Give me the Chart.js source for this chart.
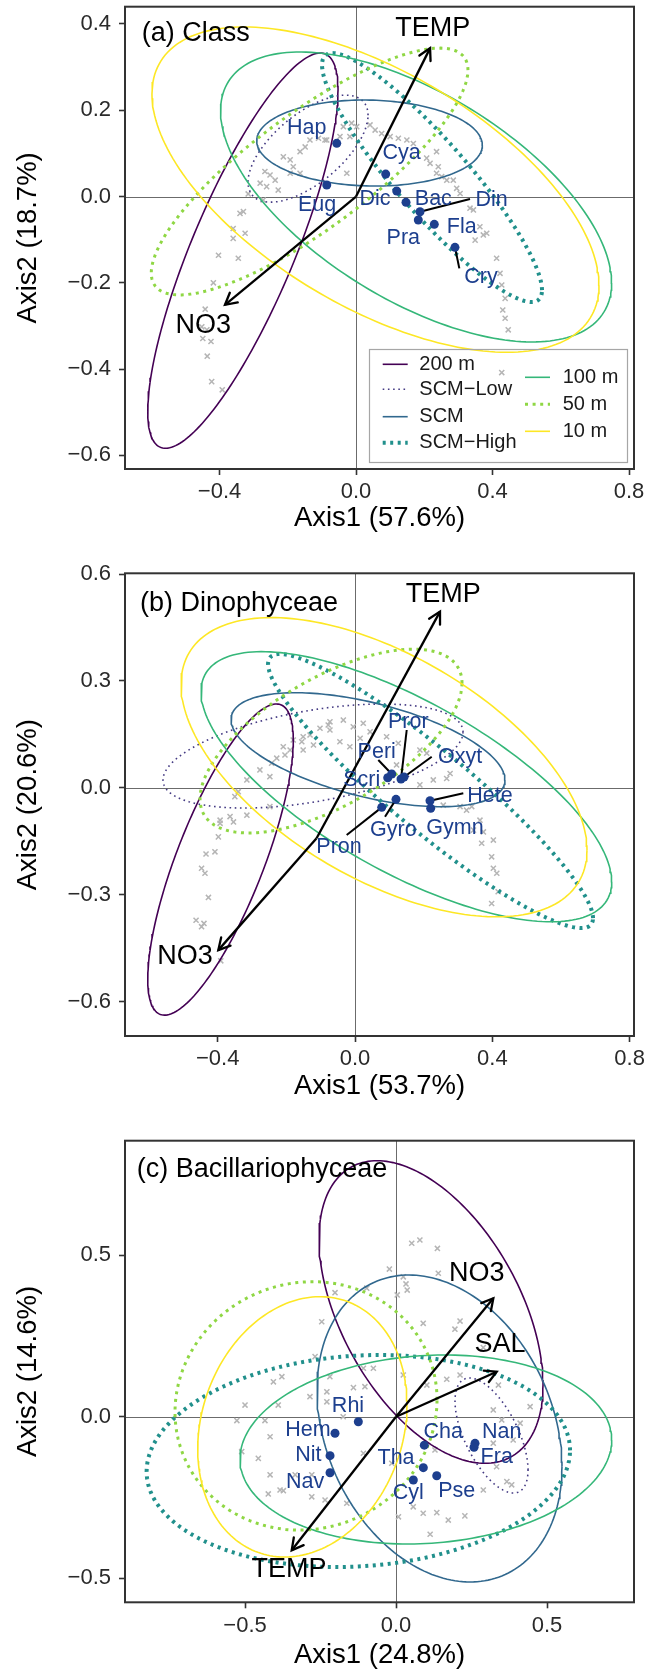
<!DOCTYPE html>
<html><head><meta charset="utf-8">
<script src="https://cdn.jsdelivr.net/npm/chart.js@4.4.0/dist/chart.umd.min.js"></script>
<style>
html,body{margin:0;padding:0;background:#fff;}
#wrap{position:relative;width:649px;height:1678px;overflow:hidden;}
canvas{position:absolute;left:0;}
</style></head><body><div id="wrap">
<canvas id="ca" width="649" height="545" style="top:0px;width:649px;height:545px"></canvas>
<canvas id="cb" width="649" height="565" style="top:545px;width:649px;height:565px"></canvas>
<canvas id="cc" width="649" height="568" style="top:1110px;width:649px;height:568px"></canvas>
</div>
<script>
// ---------------- data ----------------
const groups = ['200 m','SCM\u2212Low','SCM','SCM\u2212High','100 m','50 m','10 m'];
// ellipse: centre x, centre y, half-range x, half-range y, correlation
const ellA = [[-0.3315,-0.1255,0.2788,0.458,0.813],[-0.1406,0.111,0.1758,0.124,0.626],[0.0396,0.124,0.3305,0.0997,-0.05],[0.2227,0.044,0.3223,0.2885,-0.904],[0.176,-0.001,0.573,0.336,-0.594],[-0.136,0.058,0.464,0.286,0.822],[0.057,0.016,0.655,0.377,-0.588]];
const ellB = [[-0.3918,-0.2017,0.212,0.4368,0.768],[-0.1223,0.089,0.437,0.146,0.46],[0.0379,0.1067,0.399,0.160,-0.53],[0.22,-0.0093,0.4733,0.3848,-0.927],[0.1496,0.0028,0.5982,0.3792,-0.704],[-0.0699,0.131,0.3816,0.258,0.63],[0.0845,0.0576,0.5913,0.42,-0.554]];
const ellC = [[0.1159,0.3241,0.3709,0.4684,-0.482],[0.3162,-0.0582,0.1209,0.178,-0.6],[0.144,-0.0365,0.4056,0.4752,-0.25],[-0.1248,-0.1372,0.701,0.3282,0.1],[0.0988,-0.1015,0.6154,0.2926,0.1],[-0.298,0.0334,0.4338,0.3845,0.05],[-0.3101,-0.0314,0.3465,0.403,0.17]];

const sitesA = [[-0.213,0.092],[-0.193,0.085],[-0.164,0.104],[-0.149,0.115],[-0.135,0.131],[-0.110,0.135],[-0.091,0.131],[-0.184,0.069],[-0.193,0.054],[-0.164,0.054],[-0.267,0.058],[-0.252,0.050],[-0.237,0.038],[-0.281,0.031],[-0.262,0.023],[-0.228,0.015],[-0.316,0.006],[-0.272,-0.008],[-0.340,-0.039],[-0.330,-0.035],[-0.360,-0.074],[-0.325,-0.085],[-0.360,-0.097],[-0.403,-0.136],[-0.345,-0.143],[-0.037,0.162],[-0.013,0.170],[0.002,0.162],[0.041,0.166],[0.056,0.154],[0.075,0.146],[0.100,0.139],[0.124,0.135],[0.149,0.131],[0.168,0.123],[-0.018,0.139],[-0.047,0.139],[-0.086,0.131],[-0.027,0.054],[0.207,0.089],[0.217,0.077],[0.241,0.069],[0.236,0.054],[0.251,0.046],[0.266,0.038],[0.285,0.038],[0.295,0.019],[0.305,0.007],[0.334,-0.027],[0.344,-0.031],[0.363,-0.070],[0.373,-0.089],[0.349,-0.101],[0.383,-0.085],[0.412,-0.143],[0.422,-0.178],[0.236,0.104],[-0.418,-0.200],[-0.442,-0.261],[-0.452,-0.302],[-0.437,-0.309],[-0.449,-0.329],[-0.425,-0.336],[-0.436,-0.370],[-0.423,-0.429],[-0.392,-0.448],[0.427,-0.205],[0.437,-0.236],[0.430,-0.263],[0.437,-0.282],[0.446,-0.309],[0.427,-0.408]];
const sitesB = [[-0.151,0.143],[-0.131,0.148],[-0.155,0.129],[-0.121,0.120],[-0.180,0.134],[-0.209,0.115],[-0.189,0.106],[-0.151,0.106],[-0.204,0.092],[-0.228,0.083],[-0.243,0.069],[-0.277,0.050],[-0.248,0.031],[-0.315,0.022],[-0.340,-0.011],[-0.350,-0.025],[-0.315,-0.077],[-0.248,-0.053],[-0.364,-0.081],[-0.393,-0.100],[-0.102,0.167],[-0.078,0.176],[-0.073,0.185],[-0.034,0.190],[-0.005,0.171],[0.024,0.181],[0.044,0.157],[0.015,0.139],[0.092,0.143],[0.126,0.125],[0.189,0.106],[0.209,0.097],[0.189,0.008],[0.228,0.022],[0.267,0.026],[0.277,0.040],[0.121,0.064],[0.257,-0.049],[0.306,-0.053],[0.325,-0.063],[0.340,-0.053],[-0.073,0.162],[-0.044,0.129],[-0.015,0.115],[-0.393,-0.091],[-0.354,-0.096],[-0.398,-0.138],[-0.408,-0.180],[-0.434,-0.186],[-0.447,-0.226],[-0.437,-0.240],[-0.427,-0.308],[-0.463,-0.372],[-0.447,-0.390],[-0.440,-0.381],[-0.391,-0.486],[0.345,-0.119],[0.374,-0.124],[0.369,-0.156],[0.403,-0.147],[0.398,-0.194],[0.403,-0.226],[0.413,-0.240],[0.417,-0.292],[0.398,-0.325],[0.364,-0.091]];
const sitesC = [[-0.246,0.294],[-0.268,0.186],[-0.406,0.108],[-0.378,0.124],[-0.285,0.062],[0.052,0.537],[0.079,0.547],[0.137,0.521],[-0.022,0.457],[0.140,0.444],[0.024,0.433],[0.033,0.411],[0.037,0.392],[0.004,0.377],[-0.202,0.384],[-0.097,0.398],[0.090,0.289],[0.212,0.296],[0.195,0.271],[0.289,0.214],[-0.075,0.150],[-0.108,0.150],[-0.219,0.124],[-0.141,0.090],[-0.103,0.093],[0.024,0.129],[0.168,0.116],[0.212,0.129],[0.102,0.098],[0.339,0.098],[-0.229,0.077],[-0.500,0.036],[-0.527,-0.012],[-0.434,-0.012],[-0.390,0.036],[-0.417,-0.062],[-0.511,-0.108],[-0.456,-0.129],[-0.417,-0.180],[-0.334,-0.180],[-0.279,-0.180],[-0.423,-0.239],[-0.384,-0.227],[-0.373,-0.229],[-0.279,-0.248],[-0.235,-0.258],[-0.229,0.046],[-0.175,0.000],[-0.108,-0.113],[-0.163,-0.268],[0.008,-0.310],[0.057,-0.279],[0.090,-0.299],[0.135,-0.297],[0.173,-0.320],[0.228,-0.307],[0.113,-0.364],[0.289,-0.227],[0.322,0.021],[0.350,-0.010],[0.411,-0.020],[0.444,0.031],[0.322,-0.082],[0.388,-0.072],[0.333,-0.155],[0.367,-0.201],[0.383,-0.211],[0.129,-0.103],[-0.014,-0.144]];

const taxaA = ['Hap','Eug','Cya','Dic','Bac','Din','Pra','Fla','Cry'];
const taxaA_xy = [[-0.0565,0.1233],[-0.0858,0.0267],[0.087,0.0521],[0.1193,0.0127],[0.1465,-0.0134],[0.1875,-0.0352],[0.1825,-0.0545],[0.2294,-0.0644],[0.29,-0.1177]];
const taxaA_lab = [[-0.1444,0.158],[-0.1143,-0.0197],[0.1339,0.1001],[0.0557,-0.0065],[0.2265,-0.0065],[0.3976,-0.0081],[0.1386,-0.0969],[0.3097,-0.07],[0.366,-0.1877]];
const taxaA_seg = [null,null,null,null,null,[0.334,-0.0058],null,null,[0.3027,-0.1664]];

const taxaB = ['Peri','Scri','Pror','Oxyt','Hete','Gymn','Gyro','Pron'];
const taxaB_xy = [[0.1069,0.0385],[0.0953,0.0281],[0.134,0.0244],[0.1427,0.0301],[0.2185,-0.0365],[0.2205,-0.0579],[0.1194,-0.0326],[0.0778,-0.0551]];
const taxaB_lab = [[0.0632,0.1011],[0.0195,0.0216],[0.1553,0.1854],[0.3059,0.0871],[0.3932,-0.0233],[0.2913,-0.114],[0.1116,-0.1188],[-0.0466,-0.1657]];
const taxaB_seg = [[0.0679,0.0778],null,[0.1506,0.1621],[0.2234,0.0871],[0.3155,-0.0157],null,[0.0874,-0.0815],[-0.0242,-0.1329]];

const taxaC = ['Rhi','Hem','Nit','Nav','Cha','Tha','Pse','Cyl','Nan','Fra'];
const taxaC_xy = [[-0.1248,-0.0155],[-0.202,-0.0514],[-0.2185,-0.1207],[-0.2185,-0.1734],[0.0937,-0.0882],[0.0904,-0.1577],[0.1348,-0.1827],[0.0573,-0.196],[0.2616,-0.0824],[0.2583,-0.0947]];
const taxaC_lab = [[-0.159,0.0331],[-0.2914,-0.0412],[-0.2904,-0.1186],[-0.3013,-0.2012],[0.1566,-0.0464],[0.0,-0.1288],[0.201,-0.2291],[0.0407,-0.2372],[0.35,-0.0464],[0.3334,-0.1257]];
const taxaC_seg = [null,null,null,null,null,null,null,null,null,null];

const envA = ['TEMP','NO3'], envA_from=[[0,0],[0,0]], envA_tip=[[0.217,0.344],[-0.384,-0.251]], envA_lab=[[0.225,0.390],[-0.448,-0.298]];
const envB = ['TEMP','NO3'], envB_from=[[-0.112,-0.142],[-0.112,-0.142]], envB_tip=[[0.2476,0.4944],[-0.3982,-0.4559]], envB_lab=[[0.2572,0.5413],[-0.4952,-0.4747]];
const envC = ['TEMP','NO3','SAL'], envC_from=[[0,0],[0,0],[0,0]], envC_tip=[[-0.3454,-0.4136],[0.3222,0.3666],[0.3334,0.1393]], envC_lab=[[-0.3543,-0.4745],[0.2672,0.4418],[0.3444,0.222]];

const xTicksAB=[-0.4,0,0.4,0.8], xLabAB=['\u22120.4','0.0','0.4','0.8'];
const yTicksA=[-0.6,-0.4,-0.2,0,0.2,0.4], yLabA=['\u22120.6','\u22120.4','\u22120.2','0.0','0.2','0.4'];
const yTicksB=[-0.6,-0.3,0,0.3,0.6], yLabB=['\u22120.6','\u22120.3','0.0','0.3','0.6'];
const xTicksC=[-0.5,0,0.5], xLabC=['\u22120.5','0.0','0.5'];
const yTicksC=[-0.5,0,0.5], yLabC=['\u22120.5','0.0','0.5'];

// ---------------- style ----------------
const FONT = '"Liberation Sans", Arial, Helvetica, sans-serif';
const BLUE = '#1d3f8e';
const gcol = ['#440154','#443A83','#31688E','#21908C','#35B779','#8FD744','#FDE725'];
const gw   = [1.6,1.6,1.6,4,1.6,3,1.6];
const gdash= [[],[1.6,3.6],[],[3,4.5],[],[3,4.6],[]];

function ellipsePts(p){
  const [cx,cy,w,h,r]=p, s=Math.sqrt(1-r*r), out=[];
  for(let i=0;i<=200;i++){const t=i/200*2*Math.PI; out.push({x:cx+w*Math.cos(t), y:cy+h*(r*Math.cos(t)+s*Math.sin(t))});}
  return out;
}

function makeChart(id, P){
  const ds=[];
  ds.push({data:P.taxaXY.map(([x,y])=>({x,y})), pointRadius:4.5, pointBackgroundColor:BLUE, pointBorderColor:BLUE, pointBorderWidth:0, order:0});
  P.taxaSeg.forEach((s,i)=>{ if(!s) return; const d=P.taxaXY[i];
    ds.push({data:[{x:d[0],y:d[1]},{x:s[0],y:s[1]}], showLine:true, borderColor:'#000', borderWidth:2, pointRadius:0, order:1}); });
  P.envTip.forEach((t,i)=>{ const f=P.envFrom[i];
    ds.push({data:[{x:f[0],y:f[1]},{x:t[0],y:t[1]}], showLine:true, borderColor:'#000', borderWidth:2.3, pointRadius:0, order:2}); });
  P.ell.forEach((e,i)=>{
    ds.push({data:ellipsePts(e), showLine:true, borderColor:gcol[i], borderWidth:gw[i], borderDash:gdash[i], pointRadius:0, fill:false, tension:0, order:3+(6-i)});
  });
  ds.push({data:P.sites.map(([x,y])=>({x,y})), pointStyle:'crossRot', pointRadius:3.6, borderColor:'#b5b5b5', pointBorderColor:'#b5b5b5', pointBorderWidth:1.5, order:20});

  const deco = {
    id:'deco'+id,
    beforeDatasetsDraw(ch){
      const c=ch.ctx, a=ch.chartArea, X=ch.scales.x, Y=ch.scales.y;
      c.save(); c.strokeStyle='#6b6b6b'; c.lineWidth=1;
      const x0=Math.round(X.getPixelForValue(0))+0.5, y0=Math.round(Y.getPixelForValue(0))+0.5;
      c.beginPath(); c.moveTo(x0,a.top); c.lineTo(x0,a.bottom); c.moveTo(a.left,y0); c.lineTo(a.right,y0); c.stroke();
      c.restore();
    },
    afterDatasetsDraw(ch){
      const c=ch.ctx, a=ch.chartArea, X=ch.scales.x, Y=ch.scales.y;
      const px=v=>X.getPixelForValue(v), py=v=>Y.getPixelForValue(v);
      c.save();
      c.strokeStyle='#000'; c.lineWidth=2.3; c.lineCap='round';
      P.envTip.forEach((t,i)=>{ const f=P.envFrom[i];
        const x1=px(f[0]),y1=py(f[1]),x2=px(t[0]),y2=py(t[1]);
        const ang=Math.atan2(y2-y1,x2-x1), L=13, h=0.5;
        c.beginPath(); c.moveTo(x2-L*Math.cos(ang-h), y2-L*Math.sin(ang-h)); c.lineTo(x2,y2);
        c.lineTo(x2-L*Math.cos(ang+h), y2-L*Math.sin(ang+h)); c.stroke(); });
      c.fillStyle='#000'; c.font='27px '+FONT; c.textAlign='center'; c.textBaseline='middle';
      P.env.forEach((n,i)=>c.fillText(n, px(P.envLab[i][0]), py(P.envLab[i][1])));
      c.fillStyle=BLUE; c.font='21.5px '+FONT;
      P.taxa.forEach((n,i)=>c.fillText(n, px(P.taxaLab[i][0]), py(P.taxaLab[i][1])));
      c.fillStyle='#000'; c.font='27px '+FONT; c.textAlign='left';
      c.fillText(P.tag, P.tagX, P.tagY);
      if(P.legend){
        c.strokeStyle='#a6a6a6'; c.lineWidth=1.2; c.setLineDash([]);
        c.strokeRect(369.5,349.5-P.canvasTop,258,113);
        const items=[[0,382.7,419.3,364.3],[1,382.7,419.3,389.3],[2,382.7,419.3,416.7],[3,382.7,419.3,442.7],[4,525,562.7,377.3],[5,525,562.7,404.3],[6,525,562.7,431.3]];
        c.font='20px '+FONT; c.textAlign='left'; c.textBaseline='middle';
        items.forEach(([g,lx,tx,yy])=>{
          const y=yy-P.canvasTop;
          c.save(); c.strokeStyle=gcol[g]; c.lineWidth=gw[g]; c.setLineDash(gdash[g]); c.lineCap='butt';
          c.beginPath(); c.moveTo(lx,y); c.lineTo(lx+25,y); c.stroke(); c.restore();
          c.fillStyle='#1a1a1a'; c.fillText(groups[g], tx, y);
        });
      }
      c.strokeStyle='#333'; c.lineWidth=2; c.setLineDash([]);
      c.strokeRect(a.left, a.top, a.right-a.left, a.bottom-a.top);
      c.restore();
    }
  };

  const tickFont={family:FONT,size:22};
  return new Chart(document.getElementById(id), {
    type:'scatter',
    data:{datasets:ds},
    options:{
      responsive:false, animation:false, devicePixelRatio:1,
      layout:{padding:{left:0,right:15,top:P.top,bottom:0}},
      plugins:{legend:{display:false}, tooltip:{enabled:false}},
      events:[],
      scales:{
        x:{type:'linear', position:'bottom', min:P.xr[0], max:P.xr[1],
          afterBuildTicks:s=>{s.ticks=P.xt.map(v=>({value:v}));},
          afterFit:s=>{s.height=P.xh; s.paddingLeft=0; s.paddingRight=0;},
          grid:{display:true, drawOnChartArea:false, drawTicks:true, tickLength:6, tickWidth:1.6, tickColor:'#333'},
          border:{display:false},
          ticks:{font:tickFont, color:'#2a2a2a', padding:4, maxRotation:0, minRotation:0, autoSkip:false, callback:(v,i)=>P.xl[i]},
          title:{display:true, text:P.xTitle, font:{family:FONT,size:27.5}, color:'#000', padding:{top:0,bottom:P.xTitlePad}}
        },
        y:{type:'linear', position:'left', min:P.yr[0], max:P.yr[1],
          afterBuildTicks:s=>{s.ticks=P.yt.map(v=>({value:v}));},
          afterFit:s=>{s.width=125; s.paddingTop=0; s.paddingBottom=0;},
          grid:{display:true, drawOnChartArea:false, drawTicks:true, tickLength:6, tickWidth:1.6, tickColor:'#333'},
          border:{display:false},
          ticks:{font:tickFont, color:'#2a2a2a', padding:8, autoSkip:false, callback:(v,i)=>P.yl[i]},
          title:{display:true, text:P.yTitle, font:{family:FONT,size:27.5}, color:'#000', padding:{top:11.8,bottom:0}}
        }
      }
    },
    plugins:[deco]
  });
}

makeChart('ca',{canvasTop:0, top:6.7, xh:76, xTitlePad:10.2, xr:[-0.677,0.8146], yr:[-0.6315,0.44],
  xt:xTicksAB, xl:xLabAB, yt:yTicksA, yl:yLabA, xTitle:'Axis1 (57.6%)', yTitle:'Axis2 (18.7%)',
  sites:sitesA, ell:ellA, taxa:taxaA, taxaXY:taxaA_xy, taxaLab:taxaA_lab, taxaSeg:taxaA_seg,
  env:envA, envFrom:envA_from, envTip:envA_tip, envLab:envA_lab, tag:'(a) Class', tagX:141.7, tagY:33.3, legend:true});
makeChart('cb',{canvasTop:545, top:28.3, xh:74, xTitlePad:6.8, xr:[-0.67,0.8127], yr:[-0.697,0.602],
  xt:xTicksAB, xl:xLabAB, yt:yTicksB, yl:yLabB, xTitle:'Axis1 (53.7%)', yTitle:'Axis2 (20.6%)',
  sites:sitesB, ell:ellB, taxa:taxaB, taxaXY:taxaB_xy, taxaLab:taxaB_lab, taxaSeg:taxaB_seg,
  env:envB, envFrom:envB_from, envTip:envB_tip, envLab:envB_lab, tag:'(b) Dinophyceae', tagX:140, tagY:603.3-545, legend:false});
makeChart('cc',{canvasTop:1110, top:30.7, xh:75.7, xTitlePad:6.5, xr:[-0.8974,0.788], yr:[-0.5746,0.8545],
  xt:xTicksC, xl:xLabC, yt:yTicksC, yl:yLabC, xTitle:'Axis1 (24.8%)', yTitle:'Axis2 (14.6%)',
  sites:sitesC, ell:ellC, taxa:taxaC, taxaXY:taxaC_xy, taxaLab:taxaC_lab, taxaSeg:taxaC_seg,
  env:envC, envFrom:envC_from, envTip:envC_tip, envLab:envC_lab, tag:'(c) Bacillariophyceae', tagX:136.7, tagY:1170-1110, legend:false});
</script>
</body></html>
